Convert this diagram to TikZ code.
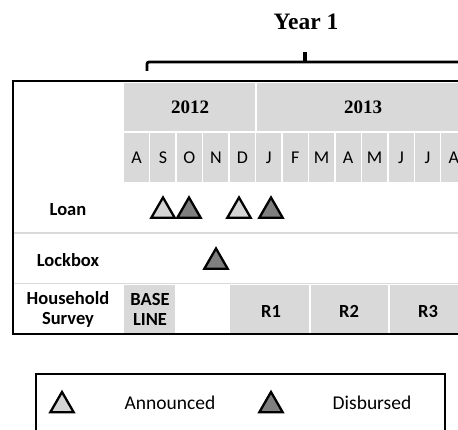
\documentclass[tikz,border=0pt]{standalone}
\usepackage{fontspec}
\setmainfont{Carlito}
\newfontfamily\yearfont{Liberation Serif}
\usetikzlibrary{shapes.geometric, positioning}
\definecolor{cellgray}{HTML}{D9D9D9}
\definecolor{rulegray}{HTML}{DADADA}
\definecolor{trilight}{HTML}{D4D4D4}
\definecolor{tridark}{HTML}{7F7F7F}
\tikzset{
  cell/.style={fill=cellgray},
  month/.style={font=\fontsize{18}{18}\selectfont},
  rowlbl/.style={font=\bfseries\fontsize{18.5}{20}\selectfont, align=center},
  yr/.style={font=\yearfont\bfseries\fontsize{19}{20}\selectfont},
  legtxt/.style={font=\fontsize{19.5}{20}\selectfont},
  tri/.style={regular polygon, regular polygon sides=3, minimum size=27pt,
    inner sep=0pt, line width=2.3pt, draw=black},
  ann/.style={tri, fill=trilight},
  dis/.style={tri, fill=tridark},
}
\begin{document}
\begin{tikzpicture}[x=1pt,y=-1pt]
\useasboundingbox (0,0) rectangle (458,430);
\clip (0,0) rectangle (458,430);

% year bracket
\node[font=\yearfont\bfseries\fontsize{23.5}{24}\selectfont] (year1) at (306,22) {Year 1};
\draw[line width=2.8pt, rounded corners=2pt] (147,71) -- (147,62) -- (470,62);
\draw[line width=3.2pt] (305,63) -- (305,52);

% header cells
\fill[cell] (124,83) rectangle (255,131);
\fill[cell] (257,83) rectangle (470,131);
\node[yr] (y2012) at (190,107) {2012};
\node[yr] (y2013) at (363,107) {2013};
\foreach \m [count=\i from 0] in {A,S,O,N,D,J,F,M,A,M,J,J,A} {
  \fill[cell] (124+26.45*\i,133) rectangle ++(25,49);
  \node[month] (m\i) at (136.5+26.45*\i,158) {\m};
}

% row rules
\draw[rulegray, line width=1.8pt] (13,233) -- (470,233);
\draw[rulegray, line width=1.8pt] (13,283.5) -- (470,283.5);

% row labels
\node[rowlbl] (loan) at (68,210) {Loan};
\node[rowlbl] (lockbox) at (68,260) {Lockbox};
\node[rowlbl] (survey) at (68,309) {Household\\Survey};

% survey rounds
\fill[cell] (124,285) rectangle (175,333);
\fill[cell] (230,285) rectangle (309,333);
\fill[cell] (311,285) rectangle (388,333);
\fill[cell] (390,285) rectangle (470,333);
\node[rowlbl] (base) at (150,309) {BASE\\LINE};
\node[rowlbl] (r1) at (271,311) {R1};
\node[rowlbl] (r2) at (349,311) {R2};
\node[rowlbl] (r3) at (428,311) {R3};

% events
\node[ann] (loanA1) at (163,211) {};
\node[dis] (loanD1) at (189,211) {};
\node[ann] (loanA2) at (239,211) {};
\node[dis] (loanD2) at (271,211) {};
\node[dis] (lockD) at (216,262) {};

% table frame
\draw[line width=1.8pt] (470,81) -| (13,334) -- (470,334);

% legend
\draw[line width=1.8pt] (36,440) |- (445,374) -- (445,440);
\node[ann] (legA) at (62,405.5) {};
\node[legtxt] (legAtxt) at (170,403) {Announced};
\node[dis] (legD) at (271,405.5) {};
\node[legtxt] (legDtxt) at (372,403) {Disbursed};
\end{tikzpicture}
\end{document}
